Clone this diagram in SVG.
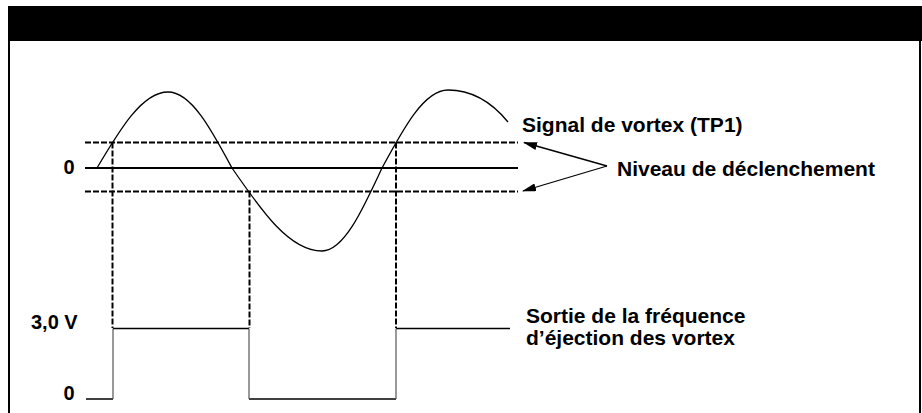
<svg xmlns="http://www.w3.org/2000/svg" width="922" height="413" viewBox="0 0 922 413">
<style>
text{font-family:"Liberation Sans",Arial,sans-serif;font-weight:bold;fill:#000}
.lbl{font-size:21px}
.ax{font-size:20px}
.dash{stroke:#000;stroke-width:2;stroke-dasharray:6 2;fill:none}
.solid{stroke:#000;stroke-width:2;fill:none}
.wave{stroke:#000;stroke-width:1.3;fill:none}
.sq{stroke:#000;stroke-width:1.5;fill:none}
.edge{stroke:#555;stroke-width:1.2;fill:none}
.arr{stroke:#000;stroke-width:1.3;fill:none;marker-end:url(#ah)}
</style>
<defs>
<marker id="ah" viewBox="0 0 14 8" refX="13" refY="4" markerWidth="14" markerHeight="8" markerUnits="userSpaceOnUse" orient="auto">
<path d="M0,0 L14,4 L0,8 Z" fill="#000"/>
</marker>
</defs>
<rect width="922" height="413" fill="#fff"/>
<g id="frame">
<rect x="8" y="6" width="914" height="35" fill="#000"/>
<line x1="9" y1="41" x2="9" y2="413" stroke="#000" stroke-width="2"/>
<line x1="920" y1="41" x2="920" y2="413" stroke="#000" stroke-width="2"/>
</g>
<g id="levels">
<line class="dash" x1="85" y1="142.5" x2="518" y2="142.5"/>
<line class="solid" x1="85" y1="168" x2="518" y2="168"/>
<line class="dash" x1="85" y1="191.5" x2="518" y2="191.5"/>
</g>
<g id="vortex-signal">
<path class="wave" d="M97,168 C120.1,129.1 142.3,92 168,92 C191.2,92 211.1,129.1 232,168 C261.3,210.5 289.4,251 322,251 C343.7,251 362.4,210.5 382,168 C403.5,128.1 424.1,90 448,90 C470,90 490,100 508,122"/>
</g>
<g id="output-signal">
<polyline class="sq" points="86,399 113,399"/>
<polyline class="sq" points="113,328.5 249,328.5"/>
<polyline class="sq" points="249,399 396,399"/>
<polyline class="sq" points="396,328.5 510,328.5"/>
<line class="edge" x1="113" y1="328.5" x2="113" y2="399"/>
<line class="edge" x1="249" y1="328.5" x2="249" y2="399"/>
<line class="edge" x1="396" y1="328.5" x2="396" y2="399"/>
</g>
<g id="connectors">
<line class="dash" x1="112.5" y1="142.5" x2="112.5" y2="328"/>
<line class="dash" x1="249.5" y1="191.5" x2="249.5" y2="328"/>
<line class="dash" x1="396" y1="142.5" x2="396" y2="328"/>
<line class="arr" x1="607" y1="166" x2="524" y2="142.5"/>
<line class="arr" x1="607" y1="166" x2="523" y2="191"/>
</g>
<g id="labels">
<text class="lbl" x="522" y="132">Signal de vortex (TP1)</text>
<text class="lbl" x="617" y="176">Niveau de déclenchement</text>
<text class="lbl" x="526" y="323">Sortie de la fréquence</text>
<text class="lbl" x="526" y="345">d’éjection des vortex</text>
<text class="ax" x="74.5" y="174" text-anchor="end">0</text>
<text class="ax" x="31" y="329">3,0 V</text>
<text class="ax" x="74.5" y="400" text-anchor="end">0</text>
</g>
</svg>
